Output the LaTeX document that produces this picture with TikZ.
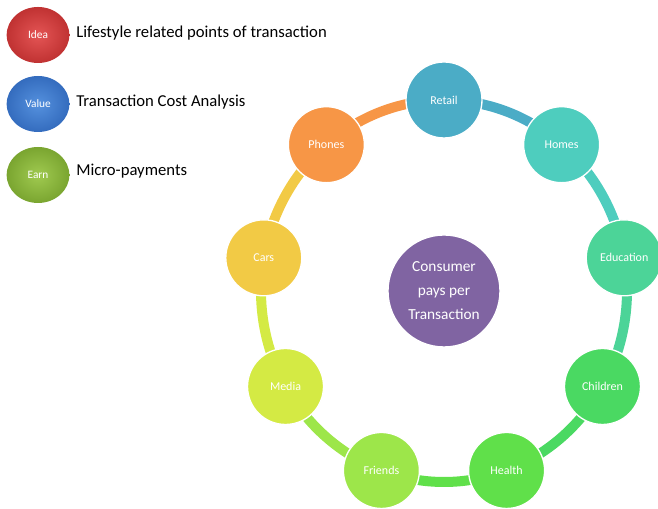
\documentclass[tikz,border=0pt]{standalone}
\usepackage{fontspec}
\setmainfont{Carlito}
\usetikzlibrary{calc,shapes.geometric}
\definecolor{cRetail}{RGB}{75,172,198}
\definecolor{cHomes}{RGB}{78,205,190}
\definecolor{cEdu}{RGB}{76,212,152}
\definecolor{cChild}{RGB}{74,217,98}
\definecolor{cHealth}{RGB}{96,224,74}
\definecolor{cFriends}{RGB}{157,230,74}
\definecolor{cMedia}{RGB}{212,234,68}
\definecolor{cCars}{RGB}{242,202,69}
\definecolor{cPhones}{RGB}{247,150,70}
\definecolor{cCenter}{RGB}{128,100,162}
\definecolor{redIn}{RGB}{228,85,85}
\definecolor{redOut}{RGB}{192,50,50}
\definecolor{blueIn}{RGB}{85,145,222}
\definecolor{blueOut}{RGB}{52,108,190}
\definecolor{greenIn}{RGB}{160,202,80}
\definecolor{greenOut}{RGB}{122,165,48}
\begin{document}
\begin{tikzpicture}[x=0.75pt,y=0.75pt,
  item/.style={circle, draw=white, line width=1pt, minimum size=57pt, inner sep=0pt,
    text=white, font=\fontsize{9}{10}\selectfont},
  hub/.style={circle, draw=white, line width=1pt, minimum size=84pt, inner sep=0pt,
    fill=cCenter, text=white, align=center, font=\fontsize{11.5}{18}\selectfont},
  ringseg/.style={line width=7.5pt},
  legball/.style={ellipse, minimum width=47pt, minimum height=42pt, inner sep=0pt,
    text=white, font=\fontsize{8.5}{10}\selectfont},
  legtext/.style={anchor=west, inner sep=0pt, font=\fontsize{12.5}{15}\selectfont}]
\useasboundingbox (0,0) rectangle (658,509);
\coordinate (C) at (444,218);
\foreach \n/\a in {1/90,2/50,3/10,4/-30,5/-70,6/-110,7/-150,8/170,9/130}
  \coordinate (p\n) at ($(C)+(\a:137.25pt and 143.25pt)$);
% ring segments
\foreach \n/\a/\c in {1/90/cRetail,2/50/cHomes,3/10/cEdu,4/-30/cChild,5/-70/cHealth,
    6/-110/cFriends,7/-150/cMedia,8/-190/cCars,9/-230/cPhones}
  \draw[ringseg, \c] (p\n) arc[start angle=\a, end angle=\a-40, x radius=137.25pt, y radius=143.25pt];
% nodes
\node[item, fill=cRetail] (retail) at (p1) {Retail};
\node[item, fill=cHomes] (homes) at (p2) {Homes};
\node[item, fill=cEdu] (edu) at (p3) {Education};
\node[item, fill=cChild] (child) at (p4) {Children};
\node[item, fill=cHealth] (health) at (p5) {Health};
\node[item, fill=cFriends] (friends) at (p6) {Friends};
\node[item, fill=cMedia] (media) at (p7) {Media};
\node[item, fill=cCars] (cars) at (p8) {Cars};
\node[item, fill=cPhones] (phones) at (p9) {Phones};
\node[hub] (center) at (C) {Consumer\\pays per\\Transaction};
% legend
\node[legball, inner color=redIn, outer color=redOut] (idea) at (38,474) {Idea};
\node[legball, inner color=blueIn, outer color=blueOut] (value) at (38,405) {Value};
\node[legball, inner color=greenIn, outer color=greenOut] (earn) at (38,334) {Earn};
\node[legtext] (t1) at (76,476) {Lifestyle related points of transaction};
\node[legtext] (t2) at (76,407) {Transaction Cost Analysis};
\node[legtext] (t3) at (76,338) {Micro-payments};
\end{tikzpicture}
\end{document}
